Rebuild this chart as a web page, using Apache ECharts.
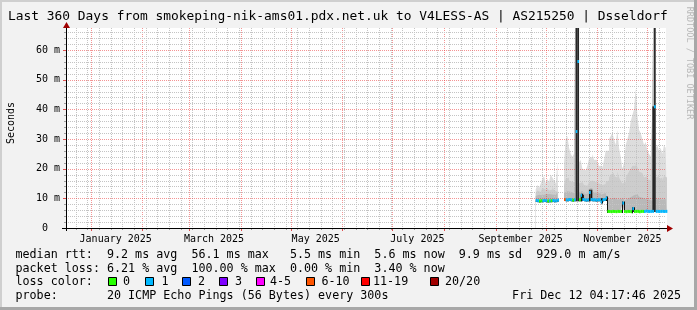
<!DOCTYPE html>
<html><head><meta charset="utf-8">
<script src="https://cdn.jsdelivr.net/npm/echarts@6/dist/echarts.min.js"></script>
<style>html,body{margin:0;padding:0;background:#f2f2f2}#c{width:697px;height:310px}</style>
</head><body><div id="c"></div><script>
const DAY = 86400000;
const END = Date.UTC(2025, 11, 12, 4, 17, 46);
const START = END - 360 * DAY;
const Y_MAX = 67.4;

// ---- data (one value per day, starting 2025-09-25) ----
const median = [
 9.3, 9.2, 9.1, 9.2, 9.2, 9.3, 9.2, 9.1, 9.2, 9.2, 9.3, 9.2, 9.2, 9.4,
 null, null, null,
 9.6, 9.5, 9.5, 9.6, 9.5, 9.4, 9.5, 32.5, 56.1, 9.5, 11.0, 9.6, 9.5, 9.4, 9.5, 12.0, 9.6, 9.5, 9.5, 9.4, 9.5, 9.5, 8.8, 9.5, 9.6, 10.1,
 5.6, 5.6, 5.5, 5.6, 5.6, 5.5, 5.6, 5.6, 5.6, 8.4, 5.6, 5.5, 5.6, 5.6, 5.5, 6.5, 5.6, 5.6, 5.6, 5.5, 5.6, 5.6, 5.6, 5.7, 5.6, 5.6, 5.6, 5.6, 40.9, 5.6, 5.6, 5.6, 5.6, 5.6, 5.6, 5.6
];
const lossLevel = [
 1, 1, 0, 0, 1, 1, 1, 0, 1, 0, 1, 1, 1, 1,
 null, null, null,
 5, 1, 1, 1, 1, 0, 1, 1, 1, 0, 1, 1, 1, 1, 1, 1, 1, 1, 1, 1, 1, 1, 1, 1, 1, 1,
 0, 0, 0, 0, 0, 0, 0, 0, 0, 1, 0, 0, 0, 0, 0, 1, 0, 0, 0, 0, 0, 0, 1, 1, 1, 1, 1, 1, 1, 1, 1, 1, 1, 1, 1, 1
];
const smokeLo = [
 8.8, 8.7, 8.6, 8.7, 8.7, 8.8, 8.7, 8.6, 8.7, 8.7, 8.8, 8.7, 8.7, 8.9,
 null, null, null,
 9.1, 9.0, 9.0, 9.1, 9.0, 8.9, 9.0, 9.0, 9.0, 9.0, 9.0, 9.1, 9.0, 8.9, 9.0, 9.0, 9.1, 9.0, 9.0, 8.9, 9.0, 9.0, 8.4, 9.0, 9.1, 9.5,
 5.4, 5.4, 5.3, 5.4, 5.4, 5.3, 5.4, 5.4, 5.4, 8.2, 5.4, 5.3, 5.4, 5.4, 5.3, 5.4, 5.4, 5.4, 5.4, 5.3, 5.4, 5.4, 5.4, 5.5, 5.4, 5.4, 5.4, 5.4, 5.4, 5.4, 5.4, 5.4, 5.4, 5.4, 5.4, 5.4
];
const smokeCore = [
 9.3, 9.2, 9.1, 9.2, 9.2, 9.3, 9.2, 9.1, 9.2, 9.2, 9.3, 9.2, 9.2, 9.4,
 null, null, null,
 9.6, 9.5, 9.5, 9.6, 9.5, 9.4, 9.5, 100, 100, 9.5, 11.2, 11.2, 9.5, 9.4, 9.5, 12.9, 12.9, 9.5, 9.5, 9.4, 9.5, 9.5, 8.8, 9.5, 9.6, 10.1,
 5.6, 5.6, 5.5, 5.6, 5.6, 5.5, 5.6, 5.6, 5.6, 8.4, 5.6, 5.5, 5.6, 5.6, 5.5, 6.8, 5.6, 5.6, 5.6, 5.5, 5.6, 5.6, 5.6, 5.7, 5.6, 5.6, 5.6, 41, 100, 5.6, 5.6, 5.6, 5.6, 5.6, 5.6, 5.6
];
const smokeDark = [
 10.8, 11.2, 10.9, 11.0, 11.6, 11.4, 11.0, 11.5, 11.2, 11.3, 11.8, 11.1, 11.0, 12.0,
 null, null, null,
 11.8, 12.4, 12.6, 12.2, 12.0, 11.8, 12.0, 100, 100, 12.0, 12.5, 12.5, 11.6, 11.5, 11.8, 13.5, 13.5, 12.2, 12.0, 11.9, 11.8, 11.6, 11.4, 11.5, 11.8, 12.2,
 9.5, 9.8, 10.0, 10.2, 9.8, 9.6, 10.2, 9.8, 9.4, 10.0, 9.2, 9.8, 10.0, 10.4, 10.8, 11.0, 11.0, 11.5, 11.0, 10.5, 10.2, 10.0, 9.8, 10.0, 9.6, 9.4, 9.2, 41, 100, 9.6, 9.8, 9.4, 9.6, 9.2, 9.8, 9.6
];
const smokeMid = [
 11.8, 12.6, 12.1, 12.5, 13.5, 13.1, 12.2, 13.4, 12.6, 13.0, 14.0, 12.6, 12.2, 14.2,
 null, null, null,
 14.5, 16.5, 17.0, 16.0, 15.5, 15.0, 15.5, 100, 100, 15.0, 15.5, 15.0, 14.5, 14.2, 14.8, 15.5, 16.0, 16.2, 15.5, 15.2, 15.0, 14.8, 14.5, 14.2, 14.8, 15.5,
 16, 17, 18, 18.5, 17.5, 17, 19, 17, 16, 15, 15.5, 17, 18, 19, 20, 21, 21, 22, 20.5, 19, 18.5, 18, 17, 17.5, 16.5, 16, 15.5, 41, 100, 17, 17.5, 16.5, 17, 16, 17.5, 17
];
const smokeHi = [
 13, 14.5, 13.5, 15, 16.5, 17.5, 15, 16.5, 15.5, 18, 17, 16, 15, 22,
 null, null, null,
 22, 30, 31, 27, 25, 24, 25, 100, 100, 22, 23, 20, 19.5, 19, 21, 23.5, 24, 25, 23, 23, 22, 21, 21, 20, 23, 26,
 26, 30, 31, 32, 30, 28, 33, 27, 24, 20, 22, 28, 30, 32, 36, 38, 40, 47, 38, 33, 32, 30, 28, 29, 26, 25, 24, 41, 100, 27, 28, 26, 27, 25, 28, 27
];

// ---- axes / legend text ----
const yTicks = [0, 10, 20, 30, 40, 50, 60];
const xLabels = ['January 2025', 'March 2025', 'May 2025', 'July 2025', 'September 2025', 'November 2025'];
const xLabelTimes = [Date.UTC(2025,0,16), Date.UTC(2025,2,16), Date.UTC(2025,4,16), Date.UTC(2025,6,16), Date.UTC(2025,8,16), Date.UTC(2025,10,16)];
const lossColors = ['#26ff00', '#00b8ff', '#0059ff', '#7e00ff', '#ff00ff', '#ff5500', '#ff0000', '#a10000'];
const lossLabels = ['0', '1', '2', '3', '4-5', '6-10', '11-19', '20/20'];
const titleText = 'Last 360 Days from smokeping-nik-ams01.pdx.net.uk to V4LESS-AS | AS215250 | Dsseldorf';
const legendLine1 = 'median rtt:  9.2 ms avg  56.1 ms max   5.5 ms min  5.6 ms now  9.9 ms sd  929.0 m am/s';
const legendLine2 = 'packet loss: 6.21 % avg  100.00 % max  0.00 % min  3.40 % now';
const legendLine4 = 'probe:       20 ICMP Echo Pings (56 Bytes) every 300s';
const dateText = 'Fri Dec 12 04:17:46 2025';

// ---- build ----
const times = median.map((_, i) => Date.UTC(2025, 8, 25 + i, 12));
const monthLines = [];
for (let m = 0; m < 12; m++) monthLines.push(Date.UTC(2025, m, 1));
const weekLines = [];
for (let t = Date.UTC(2024, 11, 23); t < END; t += 7 * DAY) weekLines.push(t);
const yMinor = [];
for (let v = 2; v < Y_MAX; v += 2) if (v % 10 !== 0) yMinor.push(v);

const MONO = '"DejaVu Sans Mono", monospace';
const chart = echarts.init(document.getElementById('c'), null, {renderer: 'canvas', width: 697, height: 310});

function stepData(vals) {
  const out = [];
  times.forEach((t, i) => {
    if (vals[i] == null) out.push([t, null]);
    else { out.push([t - DAY / 2, vals[i]]); out.push([t + DAY / 2, vals[i]]); }
  });
  return out;
}
// grey smoke: opaque areas filled down to 0, painted outermost first; white erases below the lowest ping
const layers = [
  {vals: smokeHi, color: '#dddddd'},
  {vals: smokeMid, color: '#cdcdcd'},
  {vals: smokeDark, color: '#b9b9b9'},
  {vals: smokeLo, color: '#ffffff'}
];
const smokeSeries = layers.map(l => ({
  type: 'line', symbol: 'none', z: 2, silent: true, connectNulls: false,
  lineStyle: {width: 0.01, color: l.color},
  areaStyle: {color: l.color, opacity: 1, origin: 'start'},
  data: stepData(l.vals)
}));
// darkest smoke core: from lowest ping up to the core top
const coreData = [];
times.forEach((t, i) => { if (smokeCore[i] != null && smokeCore[i] - smokeLo[i] > 0.25) coreData.push([t, smokeLo[i], smokeCore[i]]); });
const coreSeries = {
  type: 'custom', z: 4, silent: true, clip: true, data: coreData,
  renderItem: (p, api) => {
    const t = api.value(0);
    const a = api.coord([t - DAY / 2, api.value(2)]), b = api.coord([t + DAY / 2, api.value(1)]);
    return {type: 'rect', shape: {x: a[0], y: a[1], width: b[0] - a[0], height: b[1] - a[1]}, style: {fill: '#262626'}};
  }
};

const vGrid = weekLines.filter(t => !monthLines.includes(t)).map(t => [t, 0, 0]).concat(monthLines.map(t => [t, 0, 1]));
const hGrid = yMinor.map(v => [START, v, 0]).concat(yTicks.filter(v => v > 0).map(v => [START, v, 1]));
const MAJ = 'rgba(235,60,60,0.55)', MIN = '#c4c4c4';

const vGridSeries = {
  type: 'custom', z: 3, silent: true, data: vGrid,
  renderItem: (p, api) => {
    const t = api.value(0), major = api.value(2);
    const b = api.coord([t, 0]), top = api.coord([t, Y_MAX]);
    const x = Math.round(b[0]) + 0.5;
    return {type: 'group', children: [
      {type: 'line', shape: {x1: x, y1: top[1], x2: x, y2: b[1]}, style: {stroke: major ? MAJ : MIN, lineWidth: 1, lineDash: [1, 1]}},
      {type: 'line', shape: {x1: x, y1: b[1], x2: x, y2: b[1] + (major ? 3 : 2)}, style: {stroke: major ? '#e05050' : '#a0a0a0', lineWidth: 1}}
    ]};
  }
};
const hGridSeries = {
  type: 'custom', z: 3, silent: true, data: hGrid,
  renderItem: (p, api) => {
    const v = api.value(1), major = api.value(2);
    const a = api.coord([START, v]), b = api.coord([END, v]);
    const y = Math.round(a[1]) + 0.5;
    return {type: 'group', children: [
      {type: 'line', shape: {x1: a[0], y1: y, x2: b[0], y2: y}, style: {stroke: major ? MAJ : MIN, lineWidth: 1, lineDash: [1, 1]}},
      {type: 'line', shape: {x1: a[0] - (major ? 3 : 2), y1: y, x2: a[0], y2: y}, style: {stroke: major ? '#e05050' : '#a0a0a0', lineWidth: 1}}
    ]};
  }
};

const medData = [];
times.forEach((t, i) => { if (median[i] != null) medData.push([t, median[i], lossLevel[i], i > 0 && median[i - 1] != null ? median[i - 1] : median[i]]); });
const medianSeries = {
  type: 'custom', z: 5, silent: true, data: medData,
  renderItem: (p, api) => {
    const t = api.value(0), v = api.value(1), c = api.value(2), pv = api.value(3);
    const p0 = api.coord([t - DAY / 2, v]), p1 = api.coord([t + DAY / 2, v]);
    const kids = [];
    if (Math.abs(pv - v) > 0.3 && Math.abs(pv - v) < 5) {
      const pp = api.coord([t - DAY / 2, pv]);
      kids.push({type: 'rect', shape: {x: Math.round(p0[0]), y: Math.min(pp[1], p0[1]) - 1.5, width: 1, height: Math.abs(pp[1] - p0[1]) + 3}, style: {fill: '#111'}});
    }
    kids.push({type: 'rect', shape: {x: p0[0], y: p0[1] - 1.5, width: p1[0] - p0[0], height: 3}, style: {fill: lossColors[c]}});
    return {type: 'group', children: kids};
  }
};

const graphics = [];
graphics.push({type: 'rect', shape: {x: 0, y: 0, width: 697, height: 2}, style: {fill: '#cfcfcf'}, silent: true});
graphics.push({type: 'rect', shape: {x: 0, y: 0, width: 2, height: 310}, style: {fill: '#cfcfcf'}, silent: true});
graphics.push({type: 'rect', shape: {x: 0, y: 307, width: 697, height: 3}, style: {fill: '#a8a8a8'}, silent: true});
graphics.push({type: 'rect', shape: {x: 694, y: 0, width: 3, height: 310}, style: {fill: '#a8a8a8'}, silent: true});
graphics.push({type: 'rect', shape: {x: 66, y: 28, width: 600, height: 200}, style: {fill: '#ffffff'}, z: -10, silent: true});
graphics.push({type: 'text', x: 8, y: 17, style: {text: titleText, font: '12.9px ' + MONO, fill: '#000', align: 'left', verticalAlign: 'middle'}, silent: true});
graphics.push({type: 'text', x: 11, y: 123, rotation: Math.PI / 2, style: {text: 'Seconds', font: '10px ' + MONO, fill: '#000', align: 'center', verticalAlign: 'middle'}, silent: true});
graphics.push({type: 'text', x: 689, y: 63, rotation: -Math.PI / 2, style: {text: 'RRDTOOL / TOBI OETIKER', font: '8.5px ' + MONO, fill: '#b8b8b8', align: 'center', verticalAlign: 'middle'}, silent: true});
graphics.push({type: 'line', shape: {x1: 62, y1: 228.5, x2: 669, y2: 228.5}, style: {stroke: '#000', lineWidth: 1}, z: 10, silent: true});
graphics.push({type: 'line', shape: {x1: 66.5, y1: 231, x2: 66.5, y2: 25}, style: {stroke: '#000', lineWidth: 1}, z: 10, silent: true});
graphics.push({type: 'polygon', shape: {points: [[667, 225], [673, 228.5], [667, 232]]}, style: {fill: '#a00000'}, z: 10, silent: true});
graphics.push({type: 'polygon', shape: {points: [[63, 28], [66.5, 22], [70, 28]]}, style: {fill: '#a00000'}, z: 10, silent: true});
const LF = '11.7px ' + MONO;
const ly = [254.5, 268.5, 282, 296];
graphics.push({type: 'text', x: 15.5, y: ly[0], style: {text: legendLine1, font: LF, fill: '#000', align: 'left', verticalAlign: 'middle'}, silent: true});
graphics.push({type: 'text', x: 15.5, y: ly[1], style: {text: legendLine2, font: LF, fill: '#000', align: 'left', verticalAlign: 'middle'}, silent: true});
graphics.push({type: 'text', x: 15.5, y: ly[2], style: {text: 'loss color:', font: LF, fill: '#000', align: 'left', verticalAlign: 'middle'}, silent: true});
graphics.push({type: 'text', x: 15.5, y: ly[3], style: {text: legendLine4, font: LF, fill: '#000', align: 'left', verticalAlign: 'middle'}, silent: true});
graphics.push({type: 'text', x: 681, y: ly[3], style: {text: dateText, font: LF, fill: '#000', align: 'right', verticalAlign: 'middle'}, silent: true});
const boxX = [108.5, 145.5, 182.5, 219.5, 256.5, 306.5, 361.5, 430.5];
const labX = [123, 161.5, 198, 235, 270, 321.5, 373, 445];
lossLabels.forEach((lab, i) => {
  graphics.push({type: 'rect', shape: {x: boxX[i], y: ly[2] - 4.5, width: 8, height: 8}, style: {fill: lossColors[i], stroke: '#000', lineWidth: 1}, silent: true});
  graphics.push({type: 'text', x: labX[i], y: ly[2], style: {text: lab, font: LF, fill: '#000', align: 'left', verticalAlign: 'middle'}, silent: true});
});

chart.setOption({
  animation: false,
  backgroundColor: '#f2f2f2',
  grid: {left: 66, top: 28, width: 600, height: 200, show: false},
  xAxis: {
    type: 'value', min: START, max: END, scale: true,
    axisLine: {show: false}, axisTick: {show: false}, splitLine: {show: false},
    axisLabel: {
      customValues: xLabelTimes, hideOverlap: false, showMinLabel: true, showMaxLabel: true,
      formatter: v => { const k = xLabelTimes.findIndex(x => Math.abs(x - v) < 60000); return k >= 0 ? xLabels[k] : ''; },
      fontFamily: 'DejaVu Sans Mono', fontSize: 10, color: '#000', margin: 6
    }
  },
  yAxis: {
    type: 'value', min: 0, max: Y_MAX, interval: 10,
    axisLine: {show: false}, axisTick: {show: false}, splitLine: {show: false},
    axisLabel: {
      formatter: v => (v === 0 ? '0  ' : (yTicks.includes(v) ? v + ' m' : '')),
      showMaxLabel: false, fontFamily: 'DejaVu Sans Mono', fontSize: 10, color: '#000', margin: 6
    }
  },
  series: [...smokeSeries, coreSeries, vGridSeries, hGridSeries, medianSeries],
  graphic: graphics
});
</script></body></html>
